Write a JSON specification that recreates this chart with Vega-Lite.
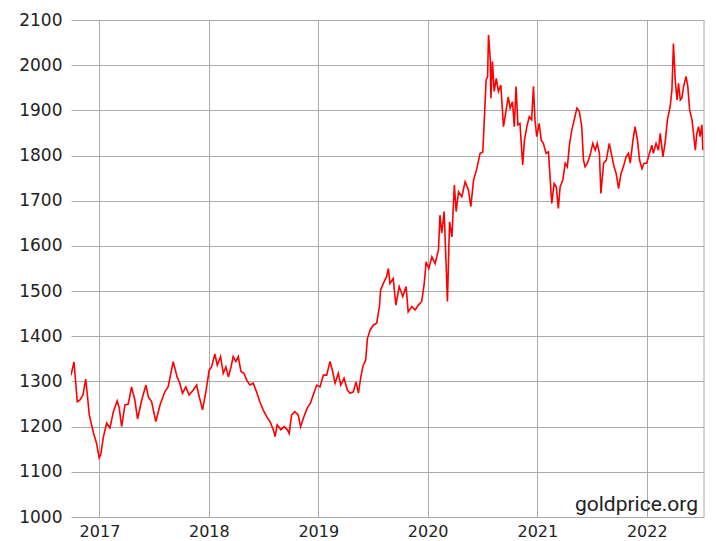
{
  "$schema": "https://vega.github.io/schema/vega-lite/v6.json",
  "width": 633,
  "height": 497,
  "autosize": {"type": "none"},
  "padding": {"left": 71, "top": 20, "right": 12, "bottom": 24},
  "background": "white",
  "config": {
    "view": {"stroke": null},
    "axis": {
      "domain": false,
      "ticks": false,
      "grid": true,
      "gridColor": "#aaaaaa",
      "gridWidth": 1,
      "labelFont": "DejaVu Sans",
      "labelFontSize": 17,
      "labelColor": "#222222",
      "title": null
    }
  },
  "layer": [
    {
      "data": {"values": [
        {"date":"2016-09-28","price":1314},{"date":"2016-10-08","price":1343},{"date":"2016-10-19","price":1255},{"date":"2016-10-28","price":1259},{"date":"2016-11-07","price":1270},{"date":"2016-11-16","price":1305},{"date":"2016-11-21","price":1274},{"date":"2016-11-28","price":1226},{"date":"2016-12-12","price":1186},{"date":"2016-12-22","price":1164},{"date":"2016-12-31","price":1131},
        {"date":"2017-01-05","price":1137},{"date":"2017-01-14","price":1177},{"date":"2017-01-25","price":1208},{"date":"2017-02-05","price":1197},{"date":"2017-02-16","price":1232},{"date":"2017-03-01","price":1257},{"date":"2017-03-08","price":1241},{"date":"2017-03-16","price":1200},{"date":"2017-03-27","price":1248},{"date":"2017-04-07","price":1250},{"date":"2017-04-18","price":1288},{"date":"2017-04-29","price":1259},{"date":"2017-05-08","price":1217},{"date":"2017-05-22","price":1259},{"date":"2017-06-05","price":1292},{"date":"2017-06-13","price":1266},{"date":"2017-06-24","price":1255},{"date":"2017-07-08","price":1211},{"date":"2017-07-22","price":1248},{"date":"2017-08-07","price":1277},{"date":"2017-08-18","price":1288},{"date":"2017-09-04","price":1344},{"date":"2017-09-17","price":1310},{"date":"2017-09-26","price":1296},{"date":"2017-10-05","price":1274},{"date":"2017-10-16","price":1288},{"date":"2017-10-27","price":1270},{"date":"2017-11-10","price":1281},{"date":"2017-11-21","price":1292},{"date":"2017-11-27","price":1274},{"date":"2017-12-11","price":1237},{"date":"2017-12-22","price":1277},
        {"date":"2018-01-02","price":1325},{"date":"2018-01-10","price":1332},{"date":"2018-01-21","price":1361},{"date":"2018-01-29","price":1336},{"date":"2018-02-09","price":1355},{"date":"2018-02-18","price":1318},{"date":"2018-02-27","price":1332},{"date":"2018-03-07","price":1310},{"date":"2018-03-16","price":1332},{"date":"2018-03-23","price":1355},{"date":"2018-04-01","price":1344},{"date":"2018-04-09","price":1355},{"date":"2018-04-18","price":1322},{"date":"2018-04-28","price":1318},{"date":"2018-05-07","price":1303},{"date":"2018-05-18","price":1292},{"date":"2018-05-29","price":1296},{"date":"2018-06-09","price":1277},{"date":"2018-06-20","price":1255},{"date":"2018-07-01","price":1237},{"date":"2018-07-13","price":1222},{"date":"2018-07-24","price":1211},{"date":"2018-08-04","price":1193},{"date":"2018-08-10","price":1178},{"date":"2018-08-17","price":1204},{"date":"2018-08-29","price":1193},{"date":"2018-09-09","price":1200},{"date":"2018-09-20","price":1193},{"date":"2018-09-26","price":1185},{"date":"2018-10-04","price":1226},{"date":"2018-10-15","price":1233},{"date":"2018-10-26","price":1226},{"date":"2018-11-03","price":1200},{"date":"2018-11-14","price":1222},{"date":"2018-11-25","price":1241},{"date":"2018-12-06","price":1252},{"date":"2018-12-15","price":1270},{"date":"2018-12-27","price":1292},
        {"date":"2019-01-07","price":1288},{"date":"2019-01-18","price":1314},{"date":"2019-01-29","price":1314},{"date":"2019-02-09","price":1344},{"date":"2019-02-18","price":1322},{"date":"2019-02-26","price":1296},{"date":"2019-03-09","price":1318},{"date":"2019-03-17","price":1292},{"date":"2019-03-28","price":1307},{"date":"2019-04-08","price":1281},{"date":"2019-04-17","price":1274},{"date":"2019-04-28","price":1277},{"date":"2019-05-07","price":1299},{"date":"2019-05-15","price":1274},{"date":"2019-05-23","price":1310},{"date":"2019-05-31","price":1336},{"date":"2019-06-08","price":1347},{"date":"2019-06-14","price":1395},{"date":"2019-06-23","price":1414},{"date":"2019-07-04","price":1425},{"date":"2019-07-15","price":1429},{"date":"2019-07-24","price":1466},{"date":"2019-07-28","price":1502},{"date":"2019-08-06","price":1517},{"date":"2019-08-17","price":1532},{"date":"2019-08-23","price":1550},{"date":"2019-08-28","price":1517},{"date":"2019-09-08","price":1528},{"date":"2019-09-17","price":1469},{"date":"2019-09-28","price":1510},{"date":"2019-10-10","price":1488},{"date":"2019-10-21","price":1510},{"date":"2019-10-28","price":1454},{"date":"2019-11-09","price":1466},{"date":"2019-11-20","price":1458},{"date":"2019-12-01","price":1469},{"date":"2019-12-12","price":1477},{"date":"2019-12-20","price":1513},{"date":"2019-12-27","price":1565},
        {"date":"2020-01-05","price":1550},{"date":"2020-01-15","price":1576},{"date":"2020-01-26","price":1561},{"date":"2020-02-06","price":1591},{"date":"2020-02-11","price":1668},{"date":"2020-02-17","price":1628},{"date":"2020-02-25","price":1676},{"date":"2020-03-02","price":1569},{"date":"2020-03-07","price":1477},{"date":"2020-03-14","price":1653},{"date":"2020-03-22","price":1620},{"date":"2020-03-30","price":1735},{"date":"2020-04-05","price":1676},{"date":"2020-04-13","price":1720},{"date":"2020-04-24","price":1709},{"date":"2020-05-05","price":1742},{"date":"2020-05-16","price":1724},{"date":"2020-05-24","price":1687},{"date":"2020-06-02","price":1745},{"date":"2020-06-13","price":1771},{"date":"2020-06-24","price":1805},{"date":"2020-07-03","price":1808},{"date":"2020-07-08","price":1879},{"date":"2020-07-14","price":1967},{"date":"2020-07-19","price":1975},{"date":"2020-07-22","price":2067},{"date":"2020-07-28","price":2012},{"date":"2020-07-30","price":1927},{"date":"2020-08-04","price":2008},{"date":"2020-08-10","price":1942},{"date":"2020-08-17","price":1971},{"date":"2020-08-24","price":1942},{"date":"2020-09-01","price":1956},{"date":"2020-09-10","price":1864},{"date":"2020-09-19","price":1901},{"date":"2020-09-26","price":1930},{"date":"2020-10-02","price":1905},{"date":"2020-10-10","price":1919},{"date":"2020-10-16","price":1864},{"date":"2020-10-22","price":1953},{"date":"2020-10-28","price":1868},{"date":"2020-11-04","price":1871},{"date":"2020-11-13","price":1779},{"date":"2020-11-19","price":1834},{"date":"2020-11-27","price":1864},{"date":"2020-12-05","price":1886},{"date":"2020-12-13","price":1879},{"date":"2020-12-19","price":1953},{"date":"2020-12-24","price":1879},{"date":"2020-12-30","price":1842},
        {"date":"2021-01-07","price":1871},{"date":"2021-01-14","price":1834},{"date":"2021-01-21","price":1827},{"date":"2021-01-30","price":1805},{"date":"2021-02-07","price":1808},{"date":"2021-02-13","price":1746},{"date":"2021-02-18","price":1694},{"date":"2021-02-26","price":1738},{"date":"2021-03-05","price":1731},{"date":"2021-03-12","price":1683},{"date":"2021-03-18","price":1731},{"date":"2021-03-27","price":1746},{"date":"2021-04-04","price":1783},{"date":"2021-04-11","price":1775},{"date":"2021-04-18","price":1823},{"date":"2021-04-26","price":1857},{"date":"2021-05-04","price":1879},{"date":"2021-05-13","price":1905},{"date":"2021-05-21","price":1898},{"date":"2021-05-29","price":1864},{"date":"2021-06-04","price":1790},{"date":"2021-06-09","price":1775},{"date":"2021-06-17","price":1783},{"date":"2021-06-26","price":1801},{"date":"2021-07-05","price":1827},{"date":"2021-07-13","price":1812},{"date":"2021-07-20","price":1827},{"date":"2021-07-27","price":1805},{"date":"2021-08-01","price":1716},{"date":"2021-08-10","price":1783},{"date":"2021-08-19","price":1790},{"date":"2021-08-29","price":1827},{"date":"2021-09-07","price":1797},{"date":"2021-09-14","price":1775},{"date":"2021-09-21","price":1760},{"date":"2021-09-29","price":1727},{"date":"2021-10-07","price":1760},{"date":"2021-10-15","price":1775},{"date":"2021-10-24","price":1797},{"date":"2021-11-01","price":1805},{"date":"2021-11-07","price":1783},{"date":"2021-11-16","price":1834},{"date":"2021-11-23","price":1864},{"date":"2021-12-01","price":1834},{"date":"2021-12-08","price":1790},{"date":"2021-12-16","price":1771},{"date":"2021-12-23","price":1783},
        {"date":"2022-01-01","price":1783},{"date":"2022-01-10","price":1805},{"date":"2022-01-18","price":1823},{"date":"2022-01-23","price":1805},{"date":"2022-02-01","price":1827},{"date":"2022-02-09","price":1812},{"date":"2022-02-15","price":1849},{"date":"2022-02-24","price":1797},{"date":"2022-03-03","price":1827},{"date":"2022-03-11","price":1879},{"date":"2022-03-20","price":1908},{"date":"2022-03-26","price":1945},{"date":"2022-03-31","price":2048},{"date":"2022-04-06","price":1967},{"date":"2022-04-12","price":1923},{"date":"2022-04-17","price":1960},{"date":"2022-04-23","price":1923},{"date":"2022-04-28","price":1927},{"date":"2022-05-04","price":1953},{"date":"2022-05-12","price":1975},{"date":"2022-05-18","price":1953},{"date":"2022-05-24","price":1901},{"date":"2022-06-01","price":1879},{"date":"2022-06-06","price":1849},{"date":"2022-06-12","price":1812},{"date":"2022-06-17","price":1849},{"date":"2022-06-23","price":1864},{"date":"2022-06-28","price":1842},{"date":"2022-07-04","price":1868},{"date":"2022-07-07","price":1812}
      ]},
      "mark": {"type": "line", "color": "#ff0000", "strokeWidth": 1.6, "clip": true},
      "encoding": {
        "x": {
          "field": "date", "type": "temporal",
          "scale": {"type": "utc", "domain": ["2016-09-28", "2022-07-11"]},
          "axis": {
            "values": [{"year":2017,"utc":true},{"year":2018,"utc":true},{"year":2019,"utc":true},{"year":2020,"utc":true},{"year":2021,"utc":true},{"year":2022,"utc":true}],
            "format": "%Y",
            "labelFontSize": 16,
            "labelPadding": 6
          }
        },
        "y": {
          "field": "price", "type": "quantitative",
          "scale": {"domain": [1000, 2100], "nice": false, "zero": false},
          "axis": {
            "values": [1000,1100,1200,1300,1400,1500,1600,1700,1800,1900,2000,2100],
            "format": "d",
            "labelPadding": 9
          }
        }
      }
    },
    {
      "data": {"values": [{"date": "2022-07-11"}]},
      "mark": {"type": "rule", "color": "#aaaaaa", "strokeWidth": 1},
      "encoding": {
        "x": {"field": "date", "type": "temporal"}
      }
    },
    {
      "data": {"values": [{"label": "goldprice.org", "date": "2022-06-21", "price": 1013}]},
      "mark": {"type": "text", "align": "right", "baseline": "alphabetic", "font": "Roboto", "fontSize": 21, "color": "#222222"},
      "encoding": {
        "x": {"field": "date", "type": "temporal"},
        "y": {"field": "price", "type": "quantitative"},
        "text": {"field": "label"}
      }
    }
  ]
}
